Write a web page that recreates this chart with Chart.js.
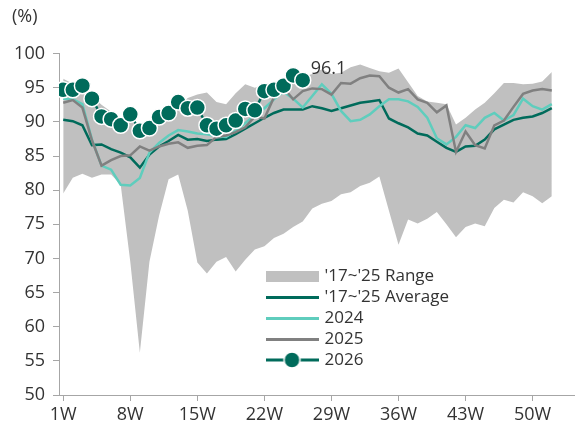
<!DOCTYPE html>
<html>
<head>
<meta charset="utf-8">
<script src="https://cdn.jsdelivr.net/npm/chart.js@4.4.1/dist/chart.umd.min.js"></script>
<style>
  html, body { margin: 0; padding: 0; background: #fff; }
  #wrap { width: 584px; height: 428px; position: relative; }
</style>
</head>
<body>
<div id="wrap"><canvas id="occ"></canvas></div>
<script>
// ukentlig belegg (%) - uke 1-52
const weeks = [1, 2, 3, 4, 5, 6, 7, 8, 9, 10, 11, 12, 13, 14, 15, 16, 17, 18, 19, 20, 21, 22, 23, 24, 25, 26,
    27, 28, 29, 30, 31, 32, 33, 34, 35, 36, 37, 38, 39, 40, 41, 42, 43, 44, 45, 46, 47, 48, 49, 50, 51, 52];
const tickWeeks = [1, 8, 15, 22, 29, 36, 43, 50];

const rangeHigh = [96.3, 95.6, 95.2, 93.8, 92.5, 91.5, 90.5, 90.5, 88.8, 89.2, 90.2, 91.2, 92.2, 93.5, 94.0, 94.3,
    92.9, 92.6, 94.2, 95.5, 95.0, 95.5, 95.8, 96.3, 96.8, 96.6, 97.0, 97.7, 97.0, 97.2, 98.0, 98.4, 97.9, 97.4,
    97.2, 97.8, 95.8, 93.8, 93.0, 92.8, 92.6, 89.6, 90.6, 91.8, 92.8, 94.2, 95.7, 95.7, 95.5, 95.6, 95.9, 97.3];
const rangeLow = [79.5, 81.8, 82.4, 81.8, 82.3, 82.3, 80.8, 69.5, 56.2, 69.5, 76.2, 81.6, 82.3, 77.0, 69.4, 67.8,
    69.5, 70.2, 68.1, 69.8, 71.3, 71.8, 73.0, 73.6, 74.6, 75.4, 77.3, 78.0, 78.4, 79.4, 79.7, 80.6, 81.1, 82.0,
    77.0, 72.0, 75.7, 75.1, 75.8, 76.8, 75.0, 73.1, 74.6, 75.1, 74.7, 77.4, 78.6, 78.2, 79.7, 79.1, 78.1, 79.1];
const avg1725 = [90.3, 90.1, 89.5, 86.6, 86.7, 86.0, 85.5, 84.8, 83.3, 85.2, 86.4, 87.2, 88.1, 87.4, 87.5, 87.2,
    87.4, 87.5, 88.2, 89.0, 89.8, 90.6, 91.3, 91.8, 91.8, 91.8, 92.3, 92.0, 91.6, 92.0, 92.4, 92.8, 93.0, 93.2,
    90.5, 89.8, 89.2, 88.3, 88.0, 87.1, 86.2, 85.6, 86.4, 86.5, 87.4, 88.9, 89.6, 90.3, 90.6, 90.8, 91.3, 92.0];
const y2024 = [93.4, 93.3, 92.6, 87.4, 83.6, 83.0, 80.8, 80.7, 81.8, 85.5, 86.9, 88.0, 88.8, 88.6, 88.3, 88.2,
    87.9, 87.8, 88.7, 89.8, 91.0, 92.0, 93.3, 94.4, 93.4, 92.1, 93.8, 95.5, 94.1, 91.6, 90.1, 90.3, 91.1, 92.3,
    93.3, 93.3, 93.0, 92.2, 90.6, 87.6, 86.7, 87.8, 89.5, 89.1, 90.6, 91.3, 90.2, 91.0, 93.4, 92.3, 91.8, 92.6];
const y2025 = [92.8, 93.2, 92.1, 87.3, 83.6, 84.4, 85.0, 85.1, 86.4, 85.8, 86.4, 86.8, 87.0, 86.2, 86.5, 86.6,
    87.8, 88.0, 88.5, 89.2, 90.8, 90.5, 93.6, 95.0, 93.3, 94.5, 94.9, 94.8, 94.0, 95.7, 95.6, 96.4, 96.8, 96.7,
    95.0, 94.3, 94.8, 93.3, 92.8, 91.4, 92.4, 85.6, 88.6, 86.6, 86.1, 89.5, 90.2, 92.2, 94.1, 94.6, 94.8, 94.6];
const y2026 = [94.7, 94.7, 95.3, 93.4, 90.8, 90.4, 89.5, 91.1, 88.7, 89.1, 90.7, 91.3, 92.9, 92.0, 92.1, 89.5,
    89.0, 89.5, 90.2, 91.9, 91.7, 94.5, 94.7, 95.3, 96.8, 96.1];

const GREEN = '#006b5b';
const TEAL = '#5fcdbd';
const GREY = '#808080';
const BAND = '#c0c0c0';
const AXIS = '#a6a6a6';
const TEXT = '#333333';

Chart.defaults.font.family = "'Open Sans', 'Noto Sans', sans-serif";
Chart.defaults.font.size = 18;
Chart.defaults.color = TEXT;

// små ikoner til legenden
function icon(w, h, draw) {
    const c = document.createElement('canvas');
    c.width = w; c.height = h;
    draw(c.getContext('2d'));
    return c;
}
const lineIcon = col => icon(53, 3, g => { g.fillStyle = col; g.fillRect(0, 0, 53, 3); });
const icons = [
    icon(53, 11, g => { g.fillStyle = BAND; g.fillRect(0, 0, 53, 11); }),
    null,
    lineIcon(GREEN),
    lineIcon(TEAL),
    lineIcon(GREY),
    icon(53, 20, g => {
        g.fillStyle = GREEN; g.fillRect(0, 8.5, 53, 3);
        g.beginPath(); g.arc(26.5, 10, 8, 0, Math.PI * 2);
        g.fill(); g.lineWidth = 1.5; g.strokeStyle = '#fff'; g.stroke();
    })
];

// flytt legenden inn i plottet
const legendSpot = {
    id: 'legendSpot',
    afterLayout(chart) {
        const lg = chart.legend;
        lg.left = 264;
        lg.top = 263.5;
        lg.right = chart.chartArea.right;
        lg.bottom = chart.chartArea.bottom;
    }
};

// siste verdi for 2026
const lastValue = {
    id: 'lastValue',
    afterDatasetsDraw(chart) {
        const pts = chart.getDatasetMeta(5).data;
        const p = pts[pts.length - 1];
        if (!p) return;
        const ctx = chart.ctx;
        ctx.save();
        ctx.font = "18px 'Open Sans', 'Noto Sans', sans-serif";
        ctx.fillStyle = TEXT;
        ctx.textAlign = 'left';
        ctx.textBaseline = 'middle';
        ctx.fillText(y2026[y2026.length - 1].toFixed(1), p.x + 8, p.y - 11);
        ctx.restore();
    }
};

const plain = { pointRadius: 0, pointHoverRadius: 0, tension: 0, borderWidth: 2.5 };

new Chart(document.getElementById('occ'), {
    type: 'line',
    data: {
        labels: weeks,
        datasets: [
            { label: "'17~'25 Range", data: rangeHigh, borderColor: 'transparent', borderWidth: 0,
              backgroundColor: BAND, fill: '+1', pointRadius: 0, order: 5 },
            { label: 'low', data: rangeLow, borderColor: 'transparent', borderWidth: 0,
              backgroundColor: BAND, fill: false, pointRadius: 0, order: 6 },
            { label: "'17~'25 Average", data: avg1725, borderColor: GREEN, backgroundColor: GREEN, ...plain, order: 3 },
            { label: '2024', data: y2024, borderColor: TEAL, backgroundColor: TEAL, ...plain, order: 2 },
            { label: '2025', data: y2025, borderColor: GREY, backgroundColor: GREY, ...plain, order: 1 },
            { label: '2026', data: y2026, borderColor: GREEN, backgroundColor: GREEN, borderWidth: 2.5,
              tension: 0, pointRadius: 8, pointHoverRadius: 8, pointBackgroundColor: GREEN,
              pointBorderColor: '#fff', pointBorderWidth: 1.5, order: 0 }
        ]
    },
    options: {
        responsive: true,
        maintainAspectRatio: false,
        animation: false,
        layout: { padding: { left: 12, right: 2, top: 0, bottom: 0 } },
        plugins: {
            filler: { drawTime: 'beforeDatasetsDraw' },
            tooltip: { enabled: false },
            title: {
                display: true,
                text: '(%)',
                align: 'start',
                color: TEXT,
                font: { size: 18, weight: 'normal' },
                padding: { top: 6, bottom: 26 }
            },
            legend: {
                position: 'chartArea',
                align: 'start',
                labels: {
                    usePointStyle: true,
                    pointStyleWidth: 48,
                    padding: 4,
                    color: TEXT,
                    font: { size: 17 },
                    filter: item => item.datasetIndex !== 1,
                    sort: (a, b) => a.datasetIndex - b.datasetIndex,
                    generateLabels: chart => {
                        const items = Chart.defaults.plugins.legend.labels.generateLabels(chart);
                        items.forEach(it => { it.pointStyle = icons[it.datasetIndex]; it.lineWidth = 0; });
                        return items;
                    }
                }
            }
        },
        scales: {
            x: {
                type: 'linear',
                min: 0.56,
                max: 54.37,
                afterBuildTicks: s => { s.ticks = tickWeeks.map(v => ({ value: v })); },
                ticks: { callback: v => v + 'W', color: TEXT, padding: 3, maxRotation: 0, autoSkip: false },
                grid: { display: true, drawOnChartArea: false, drawTicks: true, tickLength: 6, color: AXIS },
                border: { display: true, color: AXIS },
                afterFit: s => { s.height = 33; }
            },
            y: {
                min: 50,
                max: 100,
                ticks: { stepSize: 5, color: TEXT, padding: 8 },
                grid: { display: true, drawOnChartArea: false, drawTicks: true, tickLength: 6, color: AXIS },
                border: { display: true, color: AXIS },
                afterFit: s => { s.width = 47; }
            }
        }
    },
    plugins: [legendSpot, lastValue]
});
</script>
</body>
</html>
